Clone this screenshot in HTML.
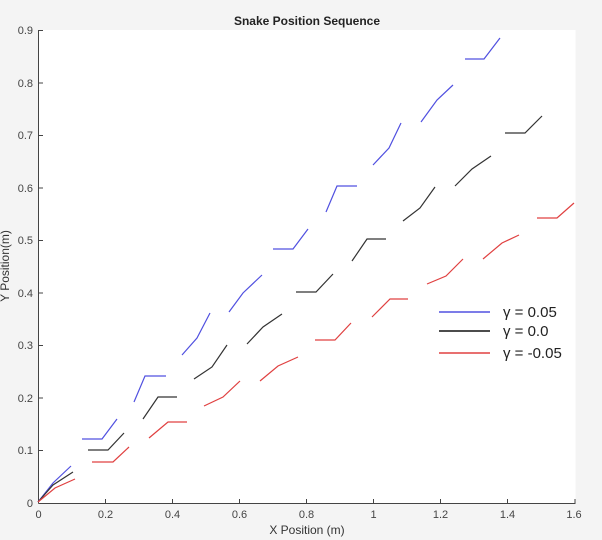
<!DOCTYPE html>
<html><head><meta charset="utf-8"><style>
html,body{margin:0;padding:0;background:#f4f4f4;}
svg{display:block;font-family:"Liberation Sans",sans-serif;}
</style></head><body>
<svg width="602" height="540" viewBox="0 0 602 540" xmlns="http://www.w3.org/2000/svg">
<rect x="0" y="0" width="602" height="540" fill="#f4f4f4"/>
<rect x="38.5" y="30" width="537" height="473" fill="#fff"/>
<text x="307" y="25" font-size="12" font-weight="bold" text-anchor="middle" fill="#222">Snake Position Sequence</text>
<g stroke="#444" stroke-width="1" fill="none">
<line x1="38.5" y1="30" x2="38.5" y2="503.5"/>
<line x1="38.5" y1="503.5" x2="575.5" y2="503.5"/>
<line x1="38.5" y1="30.5" x2="43" y2="30.5"/><line x1="38.5" y1="83" x2="43" y2="83"/><line x1="38.5" y1="135.5" x2="43" y2="135.5"/><line x1="38.5" y1="188" x2="43" y2="188"/><line x1="38.5" y1="240.5" x2="43" y2="240.5"/><line x1="38.5" y1="293" x2="43" y2="293"/><line x1="38.5" y1="345.5" x2="43" y2="345.5"/><line x1="38.5" y1="398" x2="43" y2="398"/><line x1="38.5" y1="450.5" x2="43" y2="450.5"/>
<line x1="105.5" y1="503.5" x2="105.5" y2="499"/><line x1="172.5" y1="503.5" x2="172.5" y2="499"/><line x1="239.5" y1="503.5" x2="239.5" y2="499"/><line x1="306.5" y1="503.5" x2="306.5" y2="499"/><line x1="373.5" y1="503.5" x2="373.5" y2="499"/><line x1="440.5" y1="503.5" x2="440.5" y2="499"/><line x1="507.5" y1="503.5" x2="507.5" y2="499"/><line x1="575" y1="503.5" x2="575" y2="499"/>
</g>
<g font-size="11" fill="#444" text-anchor="end">
<text x="33" y="34">0.9</text><text x="33" y="87">0.8</text><text x="33" y="139">0.7</text><text x="33" y="192">0.6</text><text x="33" y="244">0.5</text><text x="33" y="297">0.4</text><text x="33" y="349">0.3</text><text x="33" y="402">0.2</text><text x="33" y="454">0.1</text><text x="33" y="507">0</text>
</g>
<g font-size="11" fill="#444" text-anchor="middle">
<text x="38.5" y="518">0</text><text x="105.5" y="518">0.2</text><text x="172.5" y="518">0.4</text><text x="239.5" y="518">0.6</text><text x="306.5" y="518">0.8</text><text x="373.5" y="518">1</text><text x="440.5" y="518">1.2</text><text x="507.5" y="518">1.4</text><text x="574" y="518">1.6</text>
</g>
<text x="307" y="534" font-size="12" fill="#333" text-anchor="middle">X Position (m)</text>
<text transform="translate(9,266) rotate(-90)" font-size="12" fill="#333" text-anchor="middle">Y Position(m)</text>
<g fill="none" stroke-width="1.2">
<g stroke="#5050e0">
<polyline points="38,502 53,483 71,466"/>
<polyline points="82,439 102,439 117,419"/>
<polyline points="134,402 145,376 166,376"/>
<polyline points="182,355 197,338 210,313"/>
<polyline points="229,312 243,293 262,275"/>
<polyline points="273,249 293,249 308,229"/>
<polyline points="326,212 337,186 357,186"/>
<polyline points="373,165 389,148 401,123"/>
<polyline points="421,122 437,100 453,85"/>
<polyline points="465,59 484,59 500,38"/>
</g>
<g stroke="#333">
<polyline points="38,502 53,485 73,472"/>
<polyline points="88,450 108,450 124,433"/>
<polyline points="143,419 158,397 177,397"/>
<polyline points="194,379 212,367 227,345"/>
<polyline points="247,344 263,327 282,314"/>
<polyline points="296,292 316,292 333,274"/>
<polyline points="352,261 367,239 386,239"/>
<polyline points="403,221 420,208 435,187"/>
<polyline points="455,186 472,169 491,156"/>
<polyline points="505,133 525,133 542,116"/>
</g>
<g stroke="#e04040">
<polyline points="38,502 55,488 75,479"/>
<polyline points="92,462 113,462 129,447"/>
<polyline points="149,438 168,422 187,422"/>
<polyline points="204,406 223,397 240,381"/>
<polyline points="260,381 278,366 298,357"/>
<polyline points="315,340 335,340 351,323"/>
<polyline points="372,317 390,299 408,299"/>
<polyline points="427,284 446,276 463,259"/>
<polyline points="483,259 502,243 519,235"/>
<polyline points="537,218 557,218 574,203"/>
</g>
</g>
<g stroke-width="1.6">
<line x1="439" y1="312" x2="490" y2="312" stroke="#5050e0"/>
<line x1="439" y1="331" x2="490" y2="331" stroke="#111"/>
<line x1="439" y1="353" x2="490" y2="353" stroke="#e04040"/>
</g>
<g font-size="15" fill="#222">
<text x="503" y="317">γ = 0.05</text>
<text x="503" y="336">γ = 0.0</text>
<text x="503" y="358">γ = -0.05</text>
</g>
</svg>
</body></html>
